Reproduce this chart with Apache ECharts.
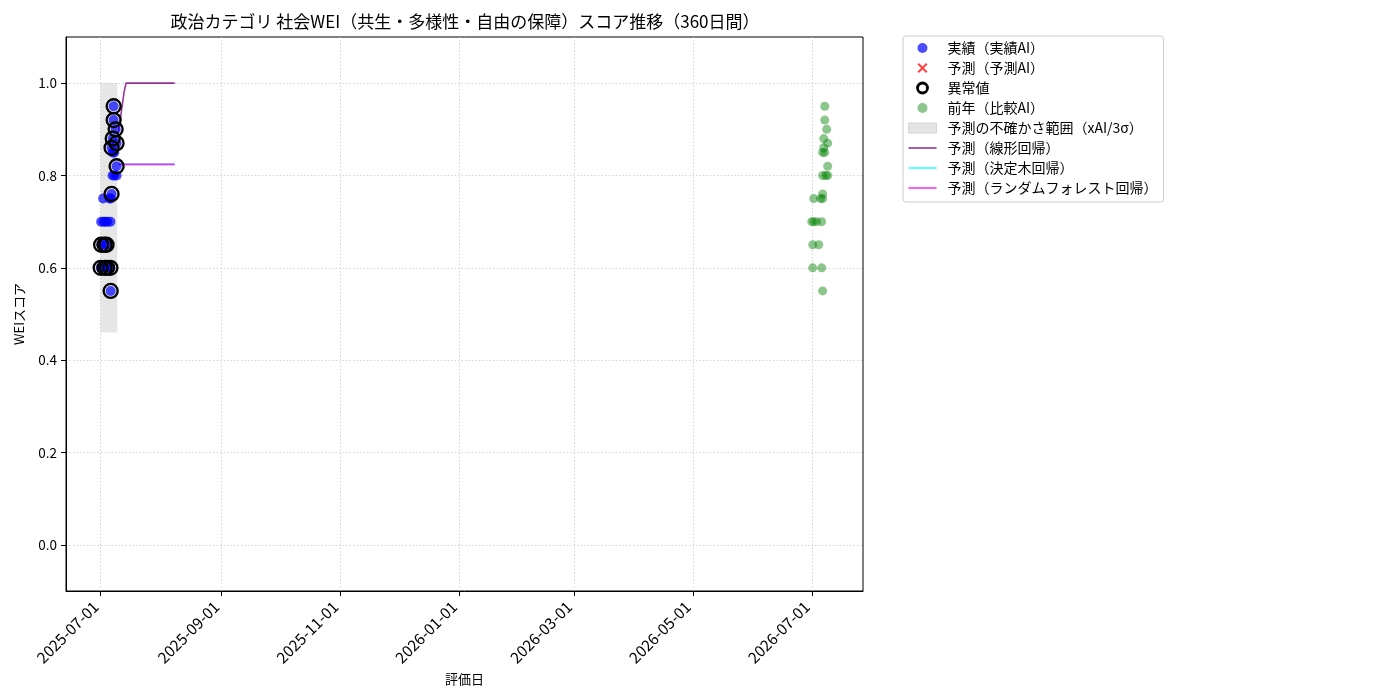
<!DOCTYPE html>
<html>
<head>
<meta charset="utf-8">
<script src="https://cdn.jsdelivr.net/npm/echarts@6/dist/echarts.min.js"></script>
<style>html,body{margin:0;padding:0;background:#fff;}#c{width:1400px;height:700px;}</style>
</head>
<body>
<div id="c"></div>
<script>
// ---------- data ----------
const titleText = '政治カテゴリ 社会WEI（共生・多様性・自由の保障）スコア推移（360日間）';
const xTickDates = ['2025-07-01','2025-09-01','2025-11-01','2026-01-01','2026-03-01','2026-05-01','2026-07-01'];
const yTicks = [0.0, 0.2, 0.4, 0.6, 0.8, 1.0];

const actualDates = [
  '2025-07-01 00:00','2025-07-01 06:00','2025-07-01 06:00','2025-07-02 06:00','2025-07-02 12:00',
  '2025-07-03 00:00','2025-07-03 00:00','2025-07-03 12:00','2025-07-04 00:00','2025-07-04 06:00',
  '2025-07-04 12:00','2025-07-05 12:00','2025-07-06 00:00','2025-07-06 00:00','2025-07-06 03:00',
  '2025-07-06 06:00','2025-07-06 14:00','2025-07-06 14:00','2025-07-07 04:00','2025-07-07 04:00',
  '2025-07-07 02:00','2025-07-07 16:00','2025-07-07 16:00','2025-07-08 00:00','2025-07-08 00:00',
  '2025-07-08 16:00','2025-07-09 04:00','2025-07-09 04:00','2025-07-09 04:00'
];
const actualValues = [
  0.60, 0.65, 0.70, 0.75, 0.70,
  0.65, 0.60, 0.70, 0.65, 0.60,
  0.70, 0.75, 0.70, 0.60, 0.55,
  0.75, 0.76, 0.86, 0.88, 0.85,
  0.80, 0.95, 0.92, 0.85, 0.80,
  0.90, 0.87, 0.82, 0.80
];

const anomalyDates = [
  '2025-07-01 00:00','2025-07-01 06:00','2025-07-03 00:00','2025-07-03 00:00','2025-07-04 00:00',
  '2025-07-04 06:00','2025-07-06 00:00','2025-07-06 03:00','2025-07-06 14:00','2025-07-06 14:00',
  '2025-07-07 04:00','2025-07-07 16:00','2025-07-07 16:00','2025-07-08 16:00','2025-07-09 04:00',
  '2025-07-09 04:00'
];
const anomalyValues = [
  0.60, 0.65, 0.65, 0.60, 0.65,
  0.60, 0.60, 0.55, 0.76, 0.86,
  0.88, 0.95, 0.92, 0.90, 0.87,
  0.82
];

const compareDates = [
  '2026-07-01 00:00','2026-07-01 12:00','2026-07-01 12:00','2026-07-02 00:00','2026-07-02 00:00',
  '2026-07-03 12:00','2026-07-04 14:00','2026-07-05 14:00','2026-07-06 02:00','2026-07-06 02:00',
  '2026-07-06 14:00','2026-07-06 14:00','2026-07-06 14:00','2026-07-06 14:00','2026-07-06 14:00',
  '2026-07-07 04:00','2026-07-07 04:00','2026-07-07 16:00','2026-07-07 16:00','2026-07-07 16:00',
  '2026-07-08 04:00','2026-07-08 16:00','2026-07-09 04:00','2026-07-09 04:00','2026-07-09 04:00'
];
const compareValues = [
  0.70, 0.65, 0.60, 0.75, 0.70,
  0.70, 0.65, 0.75, 0.60, 0.70,
  0.55, 0.75, 0.76, 0.80, 0.85,
  0.88, 0.86, 0.95, 0.92, 0.85,
  0.80, 0.90, 0.87, 0.82, 0.80
];

const predictedDates = [];      // 予測（予測AI）: no points visible
const predictedValues = [];

const forecastDates = [
  '2025-07-10 00:00','2025-07-11 00:00','2025-07-12 00:00','2025-07-13 00:00','2025-07-14 00:00',
  '2025-07-15 00:00','2025-07-16 00:00','2025-07-17 00:00','2025-07-18 00:00','2025-07-19 00:00',
  '2025-07-20 00:00','2025-07-21 00:00','2025-07-22 00:00','2025-07-23 00:00','2025-07-24 00:00',
  '2025-07-25 00:00','2025-07-26 00:00','2025-07-27 00:00','2025-07-28 00:00','2025-07-29 00:00',
  '2025-07-30 00:00','2025-07-31 00:00','2025-08-01 00:00','2025-08-02 00:00','2025-08-03 00:00',
  '2025-08-04 00:00','2025-08-05 00:00','2025-08-06 00:00','2025-08-07 00:00','2025-08-08 00:00'
];
const linearValues = [
  0.890, 0.920, 0.950, 0.980, 1.0, 1.0, 1.0, 1.0, 1.0, 1.0,
  1.0, 1.0, 1.0, 1.0, 1.0, 1.0, 1.0, 1.0, 1.0, 1.0,
  1.0, 1.0, 1.0, 1.0, 1.0, 1.0, 1.0, 1.0, 1.0, 1.0
];
const treeValues = [
  0.824, 0.824, 0.824, 0.824, 0.824, 0.824, 0.824, 0.824, 0.824, 0.824,
  0.824, 0.824, 0.824, 0.824, 0.824, 0.824, 0.824, 0.824, 0.824, 0.824,
  0.824, 0.824, 0.824, 0.824, 0.824, 0.824, 0.824, 0.824, 0.824, 0.824
];
const forestValues = [
  0.824, 0.824, 0.824, 0.824, 0.824, 0.824, 0.824, 0.824, 0.824, 0.824,
  0.824, 0.824, 0.824, 0.824, 0.824, 0.824, 0.824, 0.824, 0.824, 0.824,
  0.824, 0.824, 0.824, 0.824, 0.824, 0.824, 0.824, 0.824, 0.824, 0.824
];

const bandStart = '2025-07-01 00:00';
const bandEnd = '2025-07-09 12:00';
const bandLow = 0.46;
const bandHigh = 1.0;

// ---------- helpers ----------
const ts = s => new Date(s.length === 10 ? s + 'T00:00' : s.replace(' ', 'T')).getTime();
const pairs = (d, v) => d.map((x, i) => [ts(x), v[i]]);
const DAY = 86400000;
const xMin = ts('2025-07-01') - 17.8 * DAY;
const xMax = ts('2025-07-01') + 391.3 * DAY;
const pad = n => (n < 10 ? '0' : '') + n;
const fmtDate = v => { const d = new Date(v); return d.getFullYear() + '-' + pad(d.getMonth() + 1) + '-' + pad(d.getDate()); };

const FONT = 'Noto Sans CJK JP';
const gridLine = { color: '#c8c8c8', width: 0.8, type: [1.5, 2] };
const xPath = 'path://M1.4,0 L5,3.6 L8.6,0 L10,1.4 L6.4,5 L10,8.6 L8.6,10 L5,6.4 L1.4,10 L0,8.6 L3.6,5 L0,1.4 Z';
const lineIcon = 'path://M0,0 L28,0 L28,1.6 L0,1.6 Z';
const C_LIN = 'rgba(128,0,128,0.8)', C_TREE = 'rgba(0,255,255,0.8)', C_RF = 'rgba(255,0,255,0.8)';

const chart = echarts.init(document.getElementById('c'));
chart.setOption({
  animation: false,
  backgroundColor: '#fff',
  textStyle: { fontFamily: FONT },
  title: {
    text: titleText, left: 460, top: 8, textAlign: 'center',
    textStyle: { fontFamily: FONT, fontSize: 17, fontWeight: 'normal', color: '#000' }
  },
  grid: { left: 66, right: 537, top: 37, bottom: 109, show: true, borderColor: '#000', borderWidth: 1, backgroundColor: 'transparent' },
  legend: {
    orient: 'vertical', left: 903, top: 36,
    padding: [5, 6, 7, 5],
    itemWidth: 28, itemHeight: 10, itemGap: 6,
    borderColor: '#cccccc', borderWidth: 1, borderRadius: 3,
    textStyle: { fontFamily: FONT, fontSize: 14, color: '#000', lineHeight: 14, padding: [0, 0, 0, 6] },
    data: [
      { name: '実績（実績AI）', icon: 'circle', itemStyle: { color: 'rgba(0,0,255,0.7)', opacity: 1 } },
      { name: '予測（予測AI）', icon: xPath, itemStyle: { color: 'rgba(255,0,0,0.75)', opacity: 1 } },
      { name: '異常値', icon: 'circle', itemStyle: { color: 'rgba(255,255,255,0)', borderColor: '#000', borderWidth: 2.8, opacity: 1 } },
      { name: '前年（比較AI）', icon: 'circle', itemStyle: { color: 'rgba(0,128,0,0.45)', opacity: 1 } },
      { name: '予測の不確かさ範囲（xAI/3σ）', icon: 'rect', itemStyle: { color: '#e4e4e4', borderColor: '#d4d4d4', borderWidth: 1, opacity: 1 } },
      { name: '予測（線形回帰）', icon: lineIcon, itemStyle: { color: C_LIN, opacity: 1 } },
      { name: '予測（決定木回帰）', icon: lineIcon, itemStyle: { color: C_TREE, opacity: 1 } },
      { name: '予測（ランダムフォレスト回帰）', icon: lineIcon, itemStyle: { color: C_RF, opacity: 1 } }
    ]
  },
  xAxis: {
    type: 'value', min: xMin, max: xMax,
    name: '評価日', nameLocation: 'middle', nameGap: 77,
    nameTextStyle: { fontFamily: FONT, fontSize: 13, color: '#000' },
    axisLine: { show: true, onZero: false, lineStyle: { color: '#000', width: 1 } },
    axisTick: { show: true, length: 5, lineStyle: { color: '#000' }, customValues: xTickDates.map(ts) },
    axisLabel: {
      customValues: xTickDates.map(ts), rotate: 45, margin: 8,
      padding: [0, 7, 0, 0],
      fontFamily: FONT, fontSize: 15.5, color: '#000',
      formatter: v => fmtDate(v)
    },
    splitLine: { show: false }
  },
  yAxis: {
    type: 'value', min: -0.1, max: 1.1,
    name: 'WEIスコア', nameLocation: 'middle', nameGap: 40,
    nameTextStyle: { fontFamily: FONT, fontSize: 13, color: '#000' },
    axisLine: { show: true, onZero: false, lineStyle: { color: '#000', width: 1 } },
    axisTick: { show: true, length: 5, lineStyle: { color: '#000' }, customValues: yTicks },
    axisLabel: { customValues: yTicks, margin: 9, fontFamily: FONT, fontSize: 13.5, color: '#000', formatter: v => v.toFixed(1) },
    splitLine: { show: false }
  },
  series: [
    {
      name: '_grid', type: 'line', data: [], silent: true, z: 0,
      markLine: {
        silent: true, symbol: 'none', z: 0,
        label: { show: false },
        lineStyle: gridLine,
        emphasis: { disabled: true },
        data: xTickDates.map(d => ({ xAxis: ts(d) })).concat(yTicks.map(v => ({ yAxis: v })))
      }
    },
    {
      name: '予測の不確かさ範囲（xAI/3σ）', type: 'scatter', data: [], z: 1,
      itemStyle: { color: '#e4e4e4' },
      markArea: {
        silent: true, z: 1,
        itemStyle: { color: 'rgba(128,128,128,0.2)' },
        data: [[{ xAxis: ts(bandStart), yAxis: bandLow }, { xAxis: ts(bandEnd), yAxis: bandHigh }]]
      }
    },
    {
      name: '予測（線形回帰）', type: 'line', data: pairs(forecastDates, linearValues), z: 2,
      symbol: 'none', color: C_LIN, lineStyle: { width: 1.6, color: C_LIN }
    },
    {
      name: '予測（決定木回帰）', type: 'line', data: pairs(forecastDates, treeValues), z: 2,
      symbol: 'none', color: C_TREE, lineStyle: { width: 1.6, color: C_TREE }
    },
    {
      name: '予測（ランダムフォレスト回帰）', type: 'line', data: pairs(forecastDates, forestValues), z: 2,
      symbol: 'none', color: C_RF, lineStyle: { width: 1.6, color: C_RF }
    },
    {
      name: '実績（実績AI）', type: 'scatter', data: pairs(actualDates, actualValues), z: 3,
      symbol: 'circle', symbolSize: 10, itemStyle: { color: 'rgba(0,0,255,0.7)', opacity: 1 }
    },
    {
      name: '予測（予測AI）', type: 'scatter', data: pairs(predictedDates, predictedValues), z: 3,
      symbol: xPath, symbolSize: 10, itemStyle: { color: 'rgba(255,0,0,0.75)', opacity: 1 }
    },
    {
      name: '異常値', type: 'scatter', data: pairs(anomalyDates, anomalyValues), z: 4,
      symbol: 'circle', symbolSize: 14, itemStyle: { color: 'rgba(255,255,255,0)', borderColor: '#000', borderWidth: 2.3, opacity: 1 }
    },
    {
      name: '前年（比較AI）', type: 'scatter', data: pairs(compareDates, compareValues), z: 3,
      symbol: 'circle', symbolSize: 9, itemStyle: { color: 'rgba(0,128,0,0.45)', opacity: 1 }
    }
  ]
});
</script>
</body>
</html>
